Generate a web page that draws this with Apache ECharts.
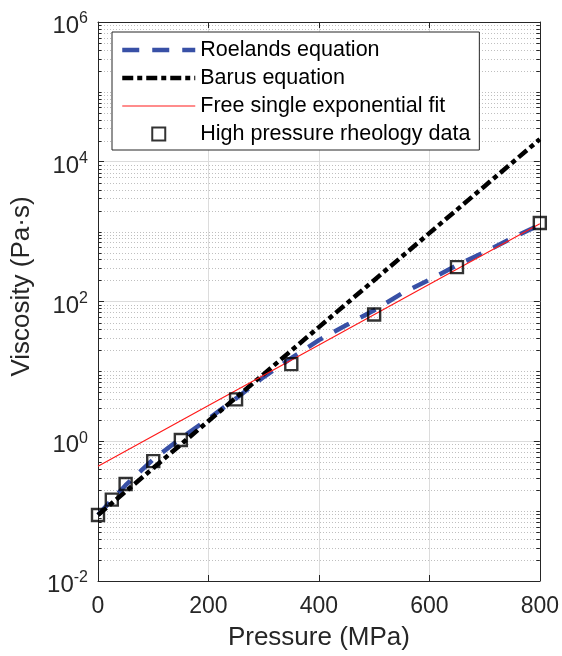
<!DOCTYPE html>
<html>
<head>
<meta charset="utf-8">
<script src="https://cdn.jsdelivr.net/npm/echarts@6/dist/echarts.min.js"></script>
<style>
html,body{margin:0;padding:0;background:#fff;}
#chart{width:562px;height:656px;}
</style>
</head>
<body>
<div id="chart"></div>
<script>
// ---- data ----
const seriesNames = ['Roelands equation', 'Barus equation', 'Free single exponential fit', 'High pressure rheology data'];

const xTicks = [0, 200, 400, 600, 800];
const yTickExponents = [-2, 0, 2, 4, 6];

const dataPressure = [0, 25, 50, 100, 150, 250, 350, 500, 650, 800];
const dataViscosity = [0.088, 0.146, 0.244, 0.52, 1.04, 3.98, 12.7, 65, 310, 1330];

const roelandsPressure = [0, 25, 50, 100, 150, 200, 250, 300, 350, 400, 450, 500, 550, 600, 650, 700, 750, 800];
const roelandsViscosity = [0.088, 0.145, 0.235, 0.55, 1.1, 2.1, 4.1, 8.3, 15.5, 28, 46, 75, 130, 205, 330, 510, 810, 1250];

const barusPressure = [0, 100, 200, 300, 400, 500, 600, 700, 800];
const barusViscosity = [0.088, 0.413, 1.95, 9.14, 43, 202, 951, 4470, 21000];

const fitPressure = [0, 200, 400, 600, 800];
const fitViscosity = [0.44, 3.24, 23.9, 176, 1300];

// minor log grid positions (2..9 x 10^k and odd decades)
const minorMantissas = [1, 2, 3, 4, 5, 6, 7, 8, 9];
const decades = [-2, -1, 0, 1, 2, 3, 4, 5];

const zip = (a, b) => a.map((v, i) => [v, b[i]]);
const minorValues = [];
decades.forEach(k => minorMantissas.forEach(m => {
  if (m === 1 && yTickExponents.indexOf(k) >= 0) return;
  minorValues.push([xTicks[0], m * Math.pow(10, k)]);
}));

const FONT = '"Liberation Sans", Arial, Helvetica, sans-serif';
const AX = '#262626';
const xMin = xTicks[0], xMax = xTicks[xTicks.length - 1];
const yMin = Math.pow(10, yTickExponents[0]), yMax = Math.pow(10, yTickExponents[yTickExponents.length - 1]);
const NOFILL = {color: 'rgba(0,0,0,0)', borderColor: 'rgba(0,0,0,0)', borderWidth: 0};

const chart = echarts.init(document.getElementById('chart'), null, {renderer: 'canvas'});

const yLabelFmt = v => {
  const e = Math.round(Math.log10(v));
  return '{b|10}{s|' + (e < 0 ? '-' + (-e) : e) + '}';
};

chart.setOption({
  animation: false,
  backgroundColor: '#fff',
  grid: {left: 98, right: 22, top: 22, bottom: 73, containLabel: false},
  legend: {
    data: [
      {name: seriesNames[0]},
      {name: seriesNames[1]},
      {name: seriesNames[2]},
      {name: seriesNames[3], icon: 'path://M0,0L10,0L10,10L0,10Z'}
    ],
    orient: 'vertical',
    left: 112, top: 32,
    itemWidth: 73, itemHeight: 13, itemGap: 6,
    padding: [7, 9, 5, 8],
    backgroundColor: '#fff',
    borderColor: AX, borderWidth: 1, borderRadius: 0,
    selectedMode: false,
    lineStyle: {width: 'inherit'},
    textStyle: {fontSize: 21.5, lineHeight: 22, color: '#000', fontFamily: FONT}
  },
  xAxis: [{
    type: 'value', min: xMin, max: xMax, interval: 200, position: 'bottom',
    axisLine: {show: true, onZero: false, lineStyle: {color: AX, width: 1}},
    axisTick: {show: true, inside: true, length: 6, lineStyle: {color: AX}},
    axisLabel: {fontSize: 23, color: AX, margin: 14, fontFamily: FONT},
    splitLine: {show: true, lineStyle: {color: '#dcdcdc', width: 1}},
    name: 'Pressure (MPa)', nameLocation: 'middle', nameGap: 44,
    nameTextStyle: {fontSize: 26, color: AX, fontFamily: FONT}
  }, {
    type: 'value', min: xMin, max: xMax, interval: 200, position: 'top',
    axisLine: {show: true, onZero: false, lineStyle: {color: AX, width: 1}},
    axisTick: {show: true, inside: true, length: 6, lineStyle: {color: AX}},
    axisLabel: {show: false}, splitLine: {show: false}
  }],
  yAxis: [{
    type: 'log', logBase: 10, min: yMin, max: yMax, interval: 2, position: 'left',
    axisLine: {show: true, onZero: false, lineStyle: {color: AX, width: 1}},
    axisTick: {show: true, inside: true, length: 6, lineStyle: {color: AX}},
    axisLabel: {
      formatter: yLabelFmt, margin: 10, color: AX, fontFamily: FONT, padding: [9, 0, 0, 0],
      rich: {
        b: {fontSize: 24, color: AX, fontFamily: FONT},
        s: {fontSize: 16, color: AX, fontFamily: FONT, padding: [0, 0, 15, 0]}
      }
    },
    splitLine: {show: true, lineStyle: {color: '#dcdcdc', width: 1}},
    name: 'Viscosity (Pa·s)', nameLocation: 'middle', nameGap: 63,
    nameTextStyle: {fontSize: 26, color: AX, fontFamily: FONT, padding: [0, 0, 0, 30]}
  }, {
    type: 'log', logBase: 10, min: yMin, max: yMax, interval: 2, position: 'right',
    axisLine: {show: true, onZero: false, lineStyle: {color: AX, width: 1}},
    axisTick: {show: true, inside: true, length: 6, lineStyle: {color: AX}},
    axisLabel: {show: false}, splitLine: {show: false}
  }],
  series: [
    {
      name: 'minorgrid', type: 'custom', silent: true, z: 1,
      data: minorValues, encode: {x: 0, y: 1},
      renderItem: function (params, api) {
        const v = api.value(1);
        const p1 = api.coord([xMin, v]);
        const p2 = api.coord([xMax, v]);
        const y = Math.round(p1[1]) + 0.5;
        return {
          type: 'group', children: [
            {type: 'line', shape: {x1: p1[0], y1: y, x2: p2[0], y2: y},
             style: {stroke: '#bfbfbf', lineWidth: 1, lineDash: [1, 2]}},
            {type: 'line', shape: {x1: p1[0], y1: y, x2: p1[0] + 3.5, y2: y},
             style: {stroke: AX, lineWidth: 1}},
            {type: 'line', shape: {x1: p2[0] - 3.5, y1: y, x2: p2[0], y2: y},
             style: {stroke: AX, lineWidth: 1}}
          ]
        };
      }
    },
    {
      name: seriesNames[0], type: 'line', z: 3,
      data: zip(roelandsPressure, roelandsViscosity),
      symbol: 'none', showSymbol: false,
      lineStyle: {color: '#3850a6', width: 4.5, type: [17, 13], cap: 'butt'},
      itemStyle: NOFILL
    },
    {
      name: seriesNames[1], type: 'line', z: 4,
      data: zip(barusPressure, barusViscosity),
      symbol: 'none', showSymbol: false,
      lineStyle: {color: '#000', width: 4.5, type: [11, 4, 5, 4], cap: 'butt'},
      itemStyle: NOFILL
    },
    {
      name: seriesNames[2], type: 'line', z: 5,
      data: zip(fitPressure, fitViscosity),
      symbol: 'none', showSymbol: false,
      lineStyle: {color: '#ff1a1a', width: 1.2},
      itemStyle: NOFILL
    },
    {
      name: seriesNames[3], type: 'scatter', z: 6,
      data: zip(dataPressure, dataViscosity),
      symbol: 'rect', symbolSize: 12,
      itemStyle: {color: 'rgba(255,255,255,0)', borderColor: '#000', borderWidth: 2.4}
    }
  ]
});
</script>
</body>
</html>
